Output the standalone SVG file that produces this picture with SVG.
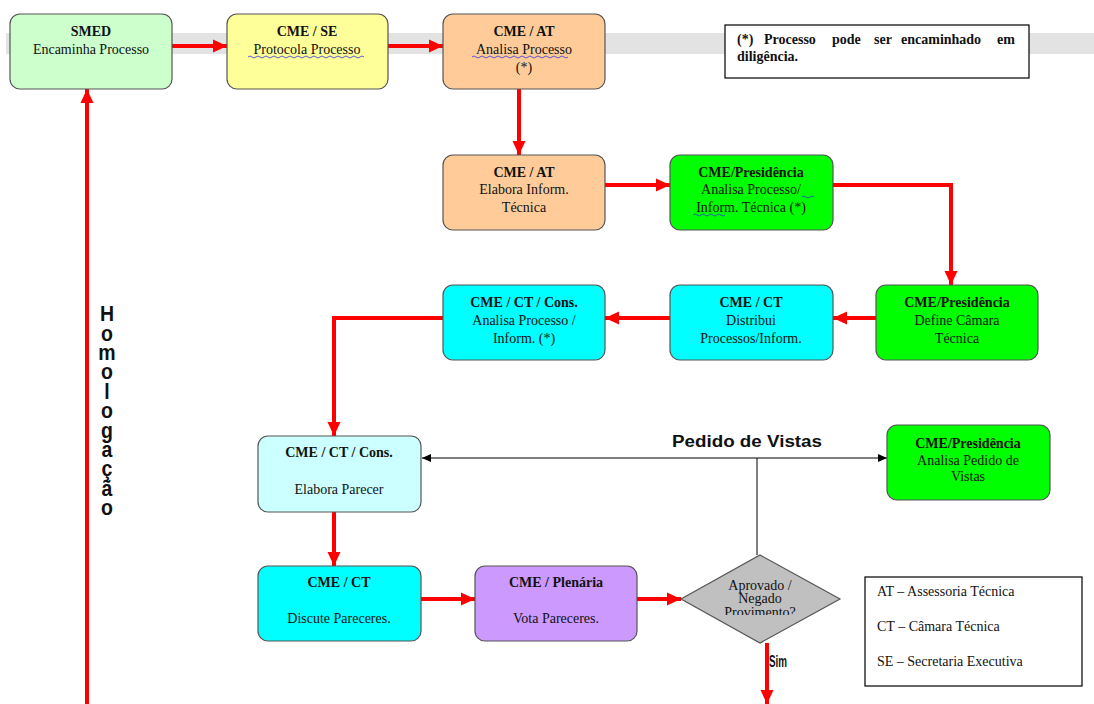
<svg xmlns="http://www.w3.org/2000/svg" width="1094" height="704" viewBox="0 0 1094 704">
<style>
.box{stroke:#555;stroke-width:1.2}
.t{font-family:"Liberation Serif",serif;font-size:14px;fill:#111;text-anchor:middle}
.b{font-weight:bold}
.red{stroke:#ff0000;stroke-width:4;fill:none}
.blk{stroke:#000;stroke-width:1;fill:none}
.wave{stroke:#3333dd;stroke-width:0.8;fill:none}
.lg{font-family:"Liberation Serif",serif;font-size:14px;fill:#111}
</style>
<defs>
<marker id="ar" markerUnits="userSpaceOnUse" markerWidth="15" markerHeight="15" refX="14" refY="7.5" orient="auto">
<path d="M0,1 L14,7.5 L0,14 Z" fill="#ff0000"/>
</marker>
<marker id="ab" markerUnits="userSpaceOnUse" markerWidth="10" markerHeight="10" refX="9" refY="5" orient="auto-start-reverse">
<path d="M0,1 L9,5 L0,9 Z" fill="#000"/>
</marker>
<clipPath id="dclip"><rect x="680" y="550" width="162" height="65"/></clipPath>
</defs>
<rect x="0" y="0" width="1094" height="704" fill="#fff"/>
<rect x="6" y="33" width="1088" height="21" fill="#e3e3e3"/>

<g id="connectors">
<path class="red" d="M172,46 H227" marker-end="url(#ar)"/>
<path class="red" d="M388,46 H443" marker-end="url(#ar)"/>
<path class="red" d="M519,89 V155" marker-end="url(#ar)"/>
<path class="red" d="M605,185 H670" marker-end="url(#ar)"/>
<path class="red" d="M833,185 H951 V285" marker-end="url(#ar)"/>
<path class="red" d="M876,318 H833" marker-end="url(#ar)"/>
<path class="red" d="M670,318 H605" marker-end="url(#ar)"/>
<path class="red" d="M443,318 H334 V436" marker-end="url(#ar)"/>
<path class="red" d="M334,512 V566" marker-end="url(#ar)"/>
<path class="red" d="M421,599 H475" marker-end="url(#ar)"/>
<path class="red" d="M637,599 H681" marker-end="url(#ar)"/>
<path class="red" d="M767,643 V704" marker-end="url(#ar)"/>
<path class="red" d="M87,704 V89" marker-end="url(#ar)"/>
<path class="blk" d="M757,555 V458"/>
<path class="blk" d="M422,458 H887" marker-start="url(#ab)" marker-end="url(#ab)"/>
<text x="672" y="447" font-family="Liberation Sans,sans-serif" font-size="16" font-weight="bold" fill="#111" textLength="150" lengthAdjust="spacingAndGlyphs">Pedido de Vistas</text>
<text x="778" y="667" font-family="Liberation Sans,sans-serif" font-size="16" font-weight="bold" text-anchor="middle" fill="#111" textLength="18" lengthAdjust="spacingAndGlyphs">Sim</text>
</g>

<g id="homologacao">
<text transform="translate(107,301) scale(0.75,0.863)" x="0" y="0" font-family="Liberation Sans,sans-serif" font-size="26" font-weight="bold" fill="#111" style="writing-mode:vertical-rl;text-orientation:upright;letter-spacing:-6px">Homologação</text>
</g>

<g id="n1"><rect class="box" x="10" y="14" width="162" height="75" rx="10" fill="#ccffcc"/>
<text class="t b" x="91" y="36">SMED</text><text class="t" x="91" y="54">Encaminha Processo</text></g>

<g id="n2"><rect class="box" x="227" y="14" width="161" height="75" rx="10" fill="#ffff99"/>
<text class="t b" x="307" y="36">CME / SE</text><text class="t" x="307" y="54">Protocola Processo</text>
<path class="wave" d="M248,57 q2,-2 4,0 t4,0 t4,0 t4,0 t4,0 t4,0 t4,0 t4,0 t4,0 t4,0 t4,0 t4,0 t4,0 t4,0 t4,0 t4,0 t4,0 t4,0 t4,0 t4,0 t4,0 t4,0 t4,0 t4,0 t4,0 t4,0 t4,0 t4,0 t4,0"/></g>

<g id="n3"><rect class="box" x="443" y="14" width="162" height="75" rx="10" fill="#ffcc99"/>
<text class="t b" x="524" y="36">CME / AT</text><text class="t" x="524" y="54">Analisa Processo</text><text class="t" x="524" y="72">(*)</text>
<path class="wave" d="M472,57 q2,-2 4,0 t4,0 t4,0 t4,0 t4,0 t4,0 t4,0 t4,0 t4,0 t4,0 t4,0 t4,0 t4,0 t4,0 t4,0 t4,0 t4,0 t4,0 t4,0 t4,0 t4,0 t4,0 t4,0 t4,0"/></g>

<g id="note"><rect x="725" y="25" width="304" height="53" fill="#fff" stroke="#000" stroke-width="1.2"/>
<text class="lg b" y="44" font-size="14"><tspan x="737">(*)</tspan><tspan x="764">Processo</tspan><tspan x="832">pode</tspan><tspan x="874">ser</tspan><tspan x="901">encaminhado</tspan><tspan x="997">em</tspan></text>
<text class="lg b" x="737" y="61" font-size="14">diligência.</text></g>

<g id="n5"><rect class="box" x="443" y="155" width="162" height="75" rx="10" fill="#ffcc99"/>
<text class="t b" x="524" y="177">CME / AT</text><text class="t" x="524" y="194">Elabora Inform.</text><text class="t" x="524" y="212">Técnica</text></g>

<g id="n6"><rect class="box" x="670" y="155" width="163" height="75" rx="10" fill="#00ff00"/>
<text class="t b" x="751" y="177">CME/Presidência</text><text class="t" x="751" y="194">Analisa Processo/</text><text class="t" x="751" y="212">Inform. Técnica (*)</text>
<path class="wave" d="M802,197 q2,-2 4,0 t4,0 t4,0"/>
<path class="wave" d="M693,215 q2,-2 4,0 t4,0 t4,0 t4,0 t4,0 t4,0 t4,0 t4,0"/></g>

<g id="n7"><rect class="box" x="876" y="285" width="162" height="75" rx="10" fill="#00ff00"/>
<text class="t b" x="957" y="307">CME/Presidência</text><text class="t" x="957" y="325">Define Câmara</text><text class="t" x="957" y="343">Técnica</text></g>

<g id="n8"><rect class="box" x="670" y="285" width="163" height="75" rx="10" fill="#00ffff"/>
<text class="t b" x="751" y="307">CME / CT</text><text class="t" x="751" y="325">Distribui</text><text class="t" x="751" y="343">Processos/Inform.</text></g>

<g id="n9"><rect class="box" x="443" y="285" width="162" height="75" rx="10" fill="#00ffff"/>
<text class="t b" x="524" y="307">CME / CT / Cons.</text><text class="t" x="524" y="325">Analisa Processo /</text><text class="t" x="524" y="343">Inform. (*)</text></g>

<g id="n10"><rect class="box" x="258" y="436" width="163" height="76" rx="10" fill="#ccffff"/>
<text class="t b" x="339" y="457" font-size="13">CME / CT / Cons.</text><text class="t" x="339" y="494" font-size="13">Elabora Parecer</text></g>

<g id="n11"><rect class="box" x="887" y="425" width="163" height="75" rx="10" fill="#00ff00"/>
<text class="t b" x="968" y="448" font-size="13">CME/Presidência</text><text class="t" x="968" y="465" font-size="13">Analisa Pedido de</text><text class="t" x="968" y="481" font-size="13">Vistas</text></g>

<g id="n12"><rect class="box" x="258" y="566" width="163" height="75" rx="10" fill="#00ffff"/>
<text class="t b" x="339" y="587">CME / CT</text><text class="t" x="339" y="623">Discute Pareceres.</text></g>

<g id="n13"><rect class="box" x="475" y="566" width="162" height="75" rx="10" fill="#cc99ff"/>
<text class="t b" x="556" y="587">CME / Plenária</text><text class="t" x="556" y="623">Vota Pareceres.</text></g>

<g id="n14"><polygon class="box" points="760,555 840,599 760,643 681,599" fill="#c0c0c0"/>
<g clip-path="url(#dclip)"><text class="t" x="760" y="590" font-size="11">Aprovado /</text><text class="t" x="760" y="603" font-size="11">Negado</text><text class="t" x="760" y="617" font-size="11">Provimento?</text></g></g>

<g id="legend"><rect x="865" y="577" width="217" height="109" fill="#fff" stroke="#000" stroke-width="1.2"/>
<text class="lg" x="877" y="596">AT – Assessoria Técnica</text>
<text class="lg" x="877" y="631">CT – Câmara Técnica</text>
<text class="lg" x="877" y="666">SE – Secretaria Executiva</text></g>
</svg>
